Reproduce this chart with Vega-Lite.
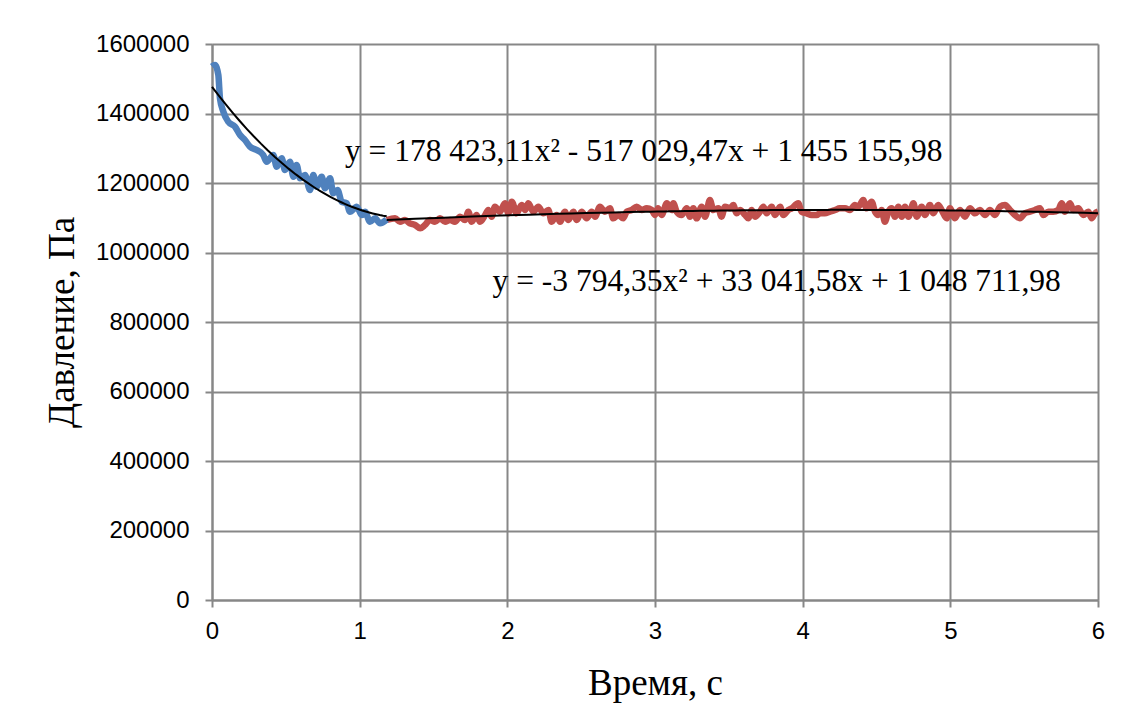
{
  "$schema": "https://vega.github.io/schema/vega-lite/v6.json",
  "autosize": {"type": "none"},
  "width": 886,
  "height": 556,
  "padding": {"left": 212, "top": 44, "right": 27, "bottom": 128},
  "background": "white",
  "config": {
    "view": {"stroke": null},
    "axis": {
      "gridColor": "#878787",
      "gridWidth": 2,
      "domainColor": "#878787",
      "domainWidth": 2,
      "tickColor": "#878787",
      "tickWidth": 2,
      "tickSize": 7,
      "labelFont": "Liberation Sans",
      "labelFontSize": 24,
      "labelColor": "#000000",
      "labelFlush": false,
      "titleFont": "Liberation Serif",
      "titleFontSize": 37,
      "titleFontWeight": "normal",
      "titleColor": "#000000"
    }
  },
  "datasets": {
    "blue": [
      {"t": 0.0, "p": 1535000}, {"t": 0.02, "p": 1539600}, {"t": 0.043, "p": 1510800}, {"t": 0.054, "p": 1443700},
      {"t": 0.077, "p": 1405300}, {"t": 0.11, "p": 1376400}, {"t": 0.156, "p": 1362000}, {"t": 0.19, "p": 1338000},
      {"t": 0.223, "p": 1323700}, {"t": 0.257, "p": 1304500}, {"t": 0.303, "p": 1295000}, {"t": 0.347, "p": 1280600},
      {"t": 0.37, "p": 1261400}, {"t": 0.415, "p": 1280600}, {"t": 0.438, "p": 1247000}, {"t": 0.472, "p": 1271000},
      {"t": 0.494, "p": 1237400}, {"t": 0.528, "p": 1261400}, {"t": 0.551, "p": 1218000}, {"t": 0.573, "p": 1251800},
      {"t": 0.596, "p": 1213500}, {"t": 0.63, "p": 1223000}, {"t": 0.664, "p": 1179800}, {"t": 0.686, "p": 1223000},
      {"t": 0.709, "p": 1189400}, {"t": 0.743, "p": 1218000}, {"t": 0.765, "p": 1184700}, {"t": 0.8, "p": 1213500},
      {"t": 0.82, "p": 1170400}, {"t": 0.85, "p": 1180000}, {"t": 0.878, "p": 1146200}, {"t": 0.912, "p": 1141500},
      {"t": 0.934, "p": 1117400}, {"t": 0.98, "p": 1131800}, {"t": 1.014, "p": 1108000}, {"t": 1.036, "p": 1117400},
      {"t": 1.07, "p": 1088600}, {"t": 1.104, "p": 1098400}, {"t": 1.138, "p": 1084000}, {"t": 1.183, "p": 1095000}
    ],
    "red": [
      {"t": 1.183, "p": 1093500}, {"t": 1.24, "p": 1098400}, {"t": 1.273, "p": 1088600}, {"t": 1.307, "p": 1093500},
      {"t": 1.34, "p": 1084000}, {"t": 1.375, "p": 1079000}, {"t": 1.41, "p": 1069600}, {"t": 1.442, "p": 1079000},
      {"t": 1.476, "p": 1093500}, {"t": 1.51, "p": 1088600}, {"t": 1.544, "p": 1098400}, {"t": 1.578, "p": 1088600},
      {"t": 1.612, "p": 1093500}, {"t": 1.645, "p": 1088600}, {"t": 1.68, "p": 1103000}, {"t": 1.713, "p": 1093500},
      {"t": 1.736, "p": 1117400}, {"t": 1.758, "p": 1088600}, {"t": 1.792, "p": 1108000}, {"t": 1.815, "p": 1088600},
      {"t": 1.85, "p": 1108000}, {"t": 1.871, "p": 1122300}, {"t": 1.894, "p": 1103000}, {"t": 1.916, "p": 1131800},
      {"t": 1.95, "p": 1117400}, {"t": 1.984, "p": 1141500}, {"t": 2.007, "p": 1112800}, {"t": 2.03, "p": 1146200},
      {"t": 2.063, "p": 1112800}, {"t": 2.097, "p": 1136700}, {"t": 2.12, "p": 1122300}, {"t": 2.142, "p": 1141500},
      {"t": 2.176, "p": 1117400}, {"t": 2.21, "p": 1131800}, {"t": 2.244, "p": 1112800}, {"t": 2.278, "p": 1122300},
      {"t": 2.3, "p": 1088600}, {"t": 2.334, "p": 1108000}, {"t": 2.357, "p": 1088600}, {"t": 2.39, "p": 1117400},
      {"t": 2.413, "p": 1093500}, {"t": 2.447, "p": 1117400}, {"t": 2.47, "p": 1093500}, {"t": 2.503, "p": 1117400},
      {"t": 2.537, "p": 1098400}, {"t": 2.571, "p": 1117400}, {"t": 2.594, "p": 1103000}, {"t": 2.627, "p": 1131800},
      {"t": 2.661, "p": 1117400}, {"t": 2.695, "p": 1127100}, {"t": 2.717, "p": 1098400}, {"t": 2.751, "p": 1108000},
      {"t": 2.785, "p": 1098400}, {"t": 2.808, "p": 1117400}, {"t": 2.842, "p": 1122300}, {"t": 2.876, "p": 1131800},
      {"t": 2.91, "p": 1122300}, {"t": 2.944, "p": 1127100}, {"t": 2.978, "p": 1122300}, {"t": 3.0, "p": 1108000},
      {"t": 3.02, "p": 1127100}, {"t": 3.045, "p": 1108000}, {"t": 3.08, "p": 1141500}, {"t": 3.113, "p": 1122300},
      {"t": 3.124, "p": 1141500}, {"t": 3.147, "p": 1117400}, {"t": 3.18, "p": 1108000}, {"t": 3.215, "p": 1127100},
      {"t": 3.237, "p": 1103000}, {"t": 3.26, "p": 1127100}, {"t": 3.282, "p": 1098400}, {"t": 3.316, "p": 1131800},
      {"t": 3.339, "p": 1103000}, {"t": 3.372, "p": 1151000}, {"t": 3.395, "p": 1122300}, {"t": 3.43, "p": 1127100},
      {"t": 3.45, "p": 1103000}, {"t": 3.474, "p": 1131800}, {"t": 3.508, "p": 1127100}, {"t": 3.53, "p": 1136700},
      {"t": 3.553, "p": 1112800}, {"t": 3.576, "p": 1122300}, {"t": 3.61, "p": 1108000}, {"t": 3.632, "p": 1098400},
      {"t": 3.655, "p": 1122300}, {"t": 3.677, "p": 1103000}, {"t": 3.711, "p": 1117400}, {"t": 3.734, "p": 1131800},
      {"t": 3.756, "p": 1112800}, {"t": 3.79, "p": 1131800}, {"t": 3.813, "p": 1108000}, {"t": 3.847, "p": 1131800},
      {"t": 3.869, "p": 1108000}, {"t": 3.903, "p": 1122300}, {"t": 3.926, "p": 1127100}, {"t": 3.97, "p": 1141500},
      {"t": 3.993, "p": 1117400}, {"t": 4.027, "p": 1112800}, {"t": 4.06, "p": 1108000}, {"t": 4.095, "p": 1108000},
      {"t": 4.117, "p": 1112800}, {"t": 4.15, "p": 1112800}, {"t": 4.185, "p": 1117400}, {"t": 4.22, "p": 1122300},
      {"t": 4.25, "p": 1127100}, {"t": 4.287, "p": 1127100}, {"t": 4.32, "p": 1122300}, {"t": 4.354, "p": 1136700},
      {"t": 4.377, "p": 1131800}, {"t": 4.41, "p": 1151000}, {"t": 4.433, "p": 1127100}, {"t": 4.467, "p": 1146200},
      {"t": 4.49, "p": 1117400}, {"t": 4.512, "p": 1108000}, {"t": 4.535, "p": 1122300}, {"t": 4.557, "p": 1088600},
      {"t": 4.58, "p": 1117400}, {"t": 4.603, "p": 1127100}, {"t": 4.625, "p": 1103000}, {"t": 4.648, "p": 1131800},
      {"t": 4.671, "p": 1103000}, {"t": 4.693, "p": 1131800}, {"t": 4.716, "p": 1103000}, {"t": 4.75, "p": 1141500},
      {"t": 4.772, "p": 1103000}, {"t": 4.806, "p": 1131800}, {"t": 4.828, "p": 1108000}, {"t": 4.862, "p": 1136700},
      {"t": 4.885, "p": 1112800}, {"t": 4.918, "p": 1136700}, {"t": 4.941, "p": 1122300}, {"t": 4.975, "p": 1098400},
      {"t": 4.997, "p": 1127100}, {"t": 5.031, "p": 1098400}, {"t": 5.065, "p": 1122300}, {"t": 5.099, "p": 1103000},
      {"t": 5.133, "p": 1127100}, {"t": 5.167, "p": 1112800}, {"t": 5.2, "p": 1122300}, {"t": 5.235, "p": 1108000},
      {"t": 5.268, "p": 1122300}, {"t": 5.302, "p": 1108000}, {"t": 5.336, "p": 1131800}, {"t": 5.37, "p": 1136700},
      {"t": 5.404, "p": 1122300}, {"t": 5.437, "p": 1108000}, {"t": 5.471, "p": 1098400}, {"t": 5.505, "p": 1112800},
      {"t": 5.539, "p": 1117400}, {"t": 5.573, "p": 1122300}, {"t": 5.607, "p": 1127100}, {"t": 5.63, "p": 1108000},
      {"t": 5.663, "p": 1117400}, {"t": 5.697, "p": 1117400}, {"t": 5.731, "p": 1122300}, {"t": 5.754, "p": 1141500},
      {"t": 5.776, "p": 1117400}, {"t": 5.81, "p": 1141500}, {"t": 5.833, "p": 1122300}, {"t": 5.867, "p": 1127100},
      {"t": 5.9, "p": 1108000}, {"t": 5.934, "p": 1117400}, {"t": 5.957, "p": 1098400}, {"t": 5.98, "p": 1112800},
      {"t": 6.0, "p": 1117400}
    ],
    "labels": [
      {"t": 0.9, "p": 1290000, "txt": "y = 178 423,11x² - 517 029,47x + 1 455 155,98"},
      {"t": 1.9, "p": 915000, "txt": "y = -3 794,35x² + 33 041,58x + 1 048 711,98"}
    ]
  },
  "encoding": {
    "x": {
      "field": "t", "type": "quantitative",
      "scale": {"domain": [0, 6], "nice": false},
      "axis": {"values": [0, 1, 2, 3, 4, 5, 6], "title": "Время, с", "labelPadding": 12, "titlePadding": 22, "format": "d"}
    },
    "y": {
      "field": "p", "type": "quantitative",
      "scale": {"domain": [0, 1600000], "nice": false},
      "axis": {"values": [0, 200000, 400000, 600000, 800000, 1000000, 1200000, 1400000, 1600000], "format": "d", "title": "Давление, Па", "labelPadding": 16, "titlePadding": 14}
    }
  },
  "layer": [
    {"data": {"name": "red"}, "mark": {"type": "line", "color": "#c0504d", "strokeWidth": 6.5, "interpolate": "monotone"}},
    {"data": {"name": "blue"}, "mark": {"type": "line", "color": "#4f81bd", "strokeWidth": 6.5, "interpolate": "monotone"}},
    {"data": {"name": "blue"}, "transform": [{"regression": "p", "on": "t", "method": "poly", "order": 2, "extent": [0, 1.183]}],
     "mark": {"type": "line", "color": "#000000", "strokeWidth": 2}},
    {"data": {"name": "red"}, "transform": [{"regression": "p", "on": "t", "method": "poly", "order": 2, "extent": [1.183, 6]}],
     "mark": {"type": "line", "color": "#000000", "strokeWidth": 2}},
    {"data": {"name": "labels"}, "mark": {"type": "text", "align": "left", "baseline": "middle", "font": "Liberation Serif", "fontSize": 31.5, "color": "#000000"},
     "encoding": {"text": {"field": "txt"}}}
  ]
}
